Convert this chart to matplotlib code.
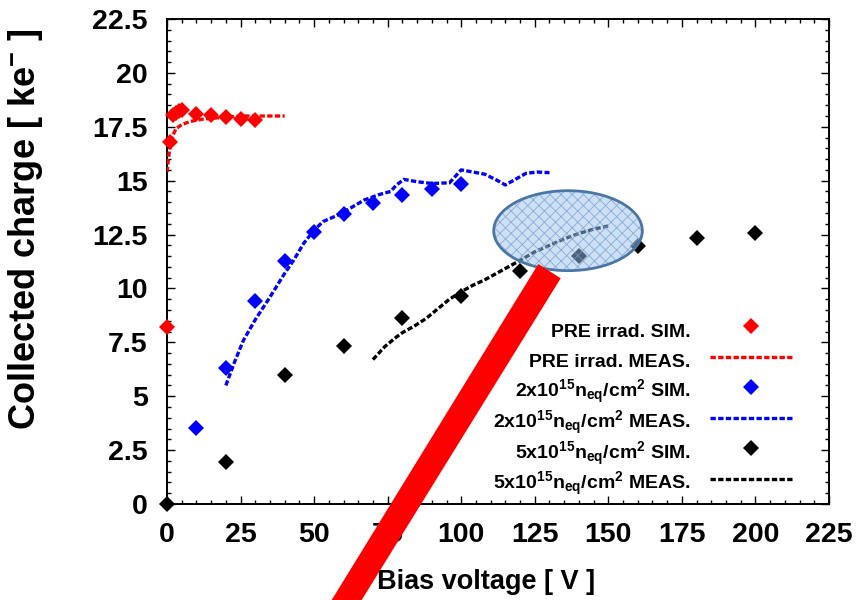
import matplotlib
matplotlib.use("Agg")
import matplotlib.pyplot as plt
from matplotlib.patches import Ellipse, Polygon
from matplotlib.ticker import MultipleLocator, FuncFormatter

plt.rcParams["font.family"] = ["Liberation Sans", "DejaVu Sans"]
plt.rcParams["font.weight"] = "bold"
plt.rcParams["mathtext.fontset"] = "custom"
plt.rcParams["mathtext.rm"] = "Liberation Sans:bold"
plt.rcParams["mathtext.it"] = "Liberation Sans:bold"
plt.rcParams["mathtext.bf"] = "Liberation Sans:bold"
plt.rcParams["mathtext.default"] = "bf"
plt.rcParams["hatch.linewidth"] = 0.6

# ---- data: collected charge [ke-] vs bias voltage [V] ----
pre_sim_v = [0, 1, 2, 3, 4, 5, 10, 15, 20, 25, 30]
pre_sim_q = [8.2, 16.8, 18.05, 18.15, 18.25, 18.3, 18.1, 18.05, 17.95, 17.85, 17.8]

pre_meas_v = [0, 1, 2, 3, 5, 8, 12, 16, 20, 25, 30, 35, 40]
pre_meas_q = [15.4, 16.6, 17.1, 17.4, 17.6, 17.75, 17.85, 17.9, 17.95, 18.0, 18.0, 18.0, 18.0]

f2_sim_v = [10, 20, 30, 40, 50, 60, 70, 80, 90, 100]
f2_sim_q = [3.52, 6.3, 9.42, 11.27, 12.6, 13.44, 13.95, 14.33, 14.61, 14.84]

f2_meas_v = [20, 23, 26, 30, 35, 40, 43, 46.5, 50, 53, 58, 62, 67, 72, 76, 78,
             80.5, 85, 90, 96, 100, 104, 108, 112, 115, 118, 122, 126, 130]
f2_meas_q = [5.5, 6.6, 7.6, 8.55, 9.6, 10.7, 11.3, 12.1, 12.7, 13.1, 13.4, 13.7,
             14.1, 14.35, 14.5, 14.8, 15.06, 14.95, 14.87, 14.9, 15.5, 15.4, 15.3,
             15.03, 14.8, 15.03, 15.34, 15.4, 15.37]

f5_sim_v = [0, 20, 40, 60, 80, 100, 120, 140, 160, 180, 200]
f5_sim_q = [0.0, 1.96, 6.0, 7.33, 8.64, 9.66, 10.82, 11.5, 11.95, 12.32, 12.58]

f5_meas_v = [70, 74, 78, 80, 84, 88, 92, 96, 100, 104, 108, 112, 116, 120, 125,
             130, 135, 140, 145, 150]
f5_meas_q = [6.7, 7.3, 7.75, 7.95, 8.25, 8.6, 9.05, 9.5, 9.85, 10.15, 10.4, 10.7,
             11.0, 11.3, 11.7, 12.0, 12.3, 12.55, 12.75, 12.9]

labels = [
    "PRE irrad. SIM.",
    "PRE irrad. MEAS.",
    r"2x10$^{15}$n$_{eq}$/cm$^{2}$ SIM.",
    r"2x10$^{15}$n$_{eq}$/cm$^{2}$ MEAS.",
    r"5x10$^{15}$n$_{eq}$/cm$^{2}$ SIM.",
    r"5x10$^{15}$n$_{eq}$/cm$^{2}$ MEAS.",
]

fig = plt.figure(figsize=(8.6, 6), dpi=100)
W, H = 860.0, 600.0
ax = fig.add_axes([167 / W, 1 - 504 / H, (829 - 167) / W, (504 - 19) / H])

dash = (0, (1.6, 0.7))
mk = dict(marker="D", ms=8, ls="none", mew=0, clip_on=False, zorder=4)
ln = dict(lw=2.4, ls=dash, zorder=3)

ax.plot(pre_sim_v, pre_sim_q, color="#ff0000", label=labels[0], **mk)
ax.plot(pre_meas_v, pre_meas_q, color="#ff0000", label=labels[1], **ln)
ax.plot(f2_sim_v, f2_sim_q, color="#0000ff", label=labels[2], **mk)
ax.plot(f2_meas_v, f2_meas_q, color="#0000ff", label=labels[3], **ln)
ax.plot(f5_sim_v, f5_sim_q, color="#000000", label=labels[4], **mk)
ax.plot(f5_meas_v, f5_meas_q, color="#000000", label=labels[5], **ln)

ax.set_xlim(0, 225)
ax.set_ylim(0, 22.5)
ax.xaxis.set_major_locator(MultipleLocator(25))
ax.xaxis.set_minor_locator(MultipleLocator(5))
ax.yaxis.set_major_locator(MultipleLocator(2.5))
ax.yaxis.set_minor_locator(MultipleLocator(0.5))
ax.yaxis.set_major_formatter(FuncFormatter(lambda v, p: f"{v:g}"))
ax.xaxis.set_major_formatter(FuncFormatter(lambda v, p: f"{v:g}"))

ax.tick_params(which="both", direction="in", top=True, right=True, width=1.0)
ax.tick_params(which="major", length=5.5, labelsize=20.5)
ax.tick_params(axis="y", which="major", pad=14)
ax.tick_params(axis="x", which="major", pad=13)
ax.tick_params(which="minor", length=3)
for s in ax.spines.values():
    s.set_linewidth(1.4)

ax.set_xlabel("Bias voltage [ V ]", fontsize=19.5, fontweight="bold")
ax.set_ylabel(r"Collected charge [ ke$^{-}$ ]", fontsize=26, fontweight="bold")
ax.xaxis.label.set_va("center")
ax.yaxis.label.set_va("center")
ax.xaxis.set_label_coords(0.482, -0.16)
ax.yaxis.set_label_coords(-0.214, 0.566)

leg = ax.legend(loc="upper right", bbox_to_anchor=(0.944, 0.388), frameon=False,
                markerfirst=False, fontsize=14, handlelength=4.23,
                handletextpad=0.98, handleheight=1.96, labelspacing=0.04,
                borderpad=0, borderaxespad=0)

# highlighted region around the highest-voltage measurements
ax.add_patch(Ellipse((136.3, 12.68), 50.5, 3.71, facecolor=(0.62, 0.76, 0.91, 0.5),
                     edgecolor=(0.45, 0.62, 0.84, 0.8), hatch="xxx", lw=0, zorder=5))
ax.add_patch(Ellipse((136.3, 12.68), 50.5, 3.71, fill=False,
                     edgecolor="#4a76a6", lw=2.0, zorder=6))

# red pointer bar running off the bottom of the figure
bar_px = [(538.3, 264.0), (560.7, 278.3), (361.7, 600.0), (331.7, 600.0)]
fig.add_artist(Polygon([(x / W, 1 - y / H) for x, y in bar_px], closed=True,
                       transform=fig.transFigure, facecolor="#ff0000",
                       edgecolor="none", zorder=10))

fig.savefig("out.png", dpi=100)
